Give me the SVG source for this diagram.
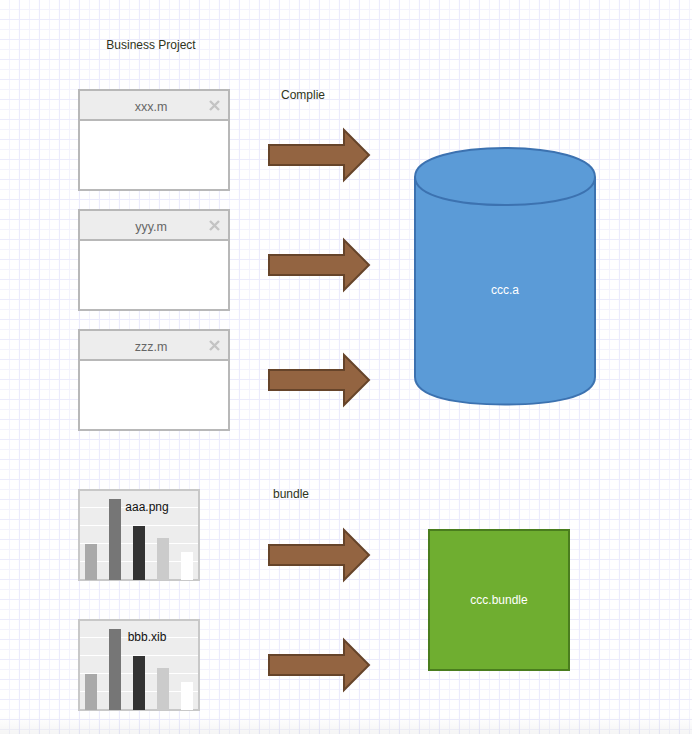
<svg xmlns="http://www.w3.org/2000/svg" width="692" height="734" viewBox="0 0 692 734">
<style>
text{font-family:"Liberation Sans",Arial,sans-serif;font-size:12px;text-anchor:middle}
.lbl{fill:#2e3320}
.win{fill:#fff;stroke:#b8b8b8;stroke-width:2}
.bar{fill:#ededed;stroke:#b8b8b8;stroke-width:2}
.ttl{fill:#666;font-size:12.500px}
.x{stroke:#c4c4c4;stroke-width:2.400;fill:none}
.arr{fill:#936441;stroke:#66442a;stroke-width:2;stroke-linejoin:miter}
.chart{fill:#ededed;stroke:#c8c8c8;stroke-width:2}
.w{fill:#fff}
</style>
<defs>
<pattern id="g" width="20" height="20" patternUnits="userSpaceOnUse">
<path d="M9.500 0V20M0 9.500H20" stroke="#f3f3fd" stroke-width="1" fill="none"/>
<path d="M19.500 0V20M0 19.500H20" stroke="#ebebfc" stroke-width="1.200" fill="none"/>
</pattern>
<linearGradient id="fade" x1="0" y1="0" x2="0" y2="1"><stop offset="0" stop-color="#000" stop-opacity="0"/><stop offset="1" stop-color="#000" stop-opacity=".04"/></linearGradient>
<g id="arrow"><path class="arr" d="M269 145H344V130L369 155L344 180V165H269Z"/></g>
<g id="chartbody">
<rect class="chart" x="79" y="490" width="120" height="90"/>
<path d="M80 507.500H198M80 525.500H198M80 543.500H198M80 561.500H198" stroke="#fff" fill="none"/>
<rect x="85" y="544" width="12" height="36" fill="#a9a9a9"/>
<rect x="109" y="499" width="12" height="81" fill="#767676"/>
<rect x="133" y="526" width="12" height="54" fill="#333"/>
<rect x="157" y="538" width="12" height="42" fill="#cbcbcb"/>
<rect x="181" y="552" width="12" height="28" fill="#fff"/>
</g>
</defs>
<rect width="692" height="734" fill="#fff"/>
<rect width="692" height="734" fill="url(#g)"/>
<rect y="716" width="692" height="18" fill="url(#fade)"/>
<g id="connectors">
<use href="#arrow"/>
<use href="#arrow" y="110"/>
<use href="#arrow" y="225"/>
<use href="#arrow" y="400"/>
<use href="#arrow" y="510"/>
</g>
<g id="title"><text class="lbl" x="151" y="49">Business Project</text></g>
<g id="complie"><text class="lbl" x="303" y="99">Complie</text></g>
<g id="bundle"><text class="lbl" x="291" y="498">bundle</text></g>
<g id="xxx">
<rect class="win" x="79" y="90" width="150" height="100"/>
<rect class="bar" x="79" y="90" width="150" height="30"/>
<text class="ttl" x="151" y="111">xxx.m</text>
<path class="x" d="M210 101L219 110M219 101L210 110"/>
</g>
<g id="yyy">
<rect class="win" x="79" y="210" width="150" height="100"/>
<rect class="bar" x="79" y="210" width="150" height="30"/>
<text class="ttl" x="151" y="231">yyy.m</text>
<path class="x" d="M210 221L219 230M219 221L210 230"/>
</g>
<g id="zzz">
<rect class="win" x="79" y="330" width="150" height="100"/>
<rect class="bar" x="79" y="330" width="150" height="30"/>
<text class="ttl" x="151" y="351">zzz.m</text>
<path class="x" d="M210 341L219 350M219 341L210 350"/>
</g>
<g id="ccc-a">
<path d="M415 177C415 157 460 148 505 148C550 148 595 157 595 177V377C595 398 550 404.500 505 404.500C460 404.500 415 398 415 377Z" fill="#5b9bd7" stroke="#3c72b0" stroke-width="2"/>
<path d="M415 177C415 197 460 205 505 205C550 205 595 197 595 177" fill="none" stroke="#3c72b0" stroke-width="2"/>
<text class="w" x="505" y="294">ccc.a</text>
</g>
<g id="aaa">
<use href="#chartbody"/>
<text fill="#111" x="147" y="511">aaa.png</text>
</g>
<g id="bbb">
<use href="#chartbody" y="130"/>
<text fill="#111" x="147" y="641">bbb.xib</text>
</g>
<g id="ccc-bundle">
<rect x="429" y="530" width="140" height="140" fill="#6fae30" stroke="#4a7d1e" stroke-width="2"/>
<text class="w" x="499" y="604">ccc.bundle</text>
</g>
</svg>
